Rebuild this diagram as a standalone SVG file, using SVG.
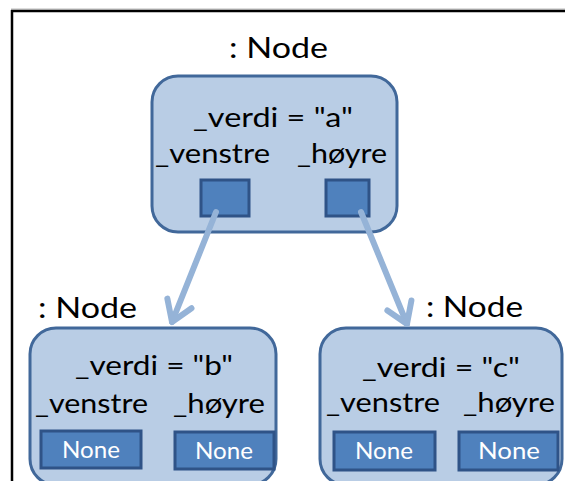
<svg xmlns="http://www.w3.org/2000/svg" width="565" height="481" viewBox="0 0 565 481">
<defs>
<style>
.node{fill:#B9CDE5;stroke:#41689A;stroke-width:3}
.slot{fill:#4F81BD;stroke:#2F5387;stroke-width:3}
.t{font-family:Lato,"Open Sans","Liberation Sans",sans-serif;font-size:27px;fill:#000}
.title{font-family:Lato,"Open Sans","Liberation Sans",sans-serif;font-size:28px;fill:#000}
.none{font-family:Lato,"Open Sans","Liberation Sans",sans-serif;font-size:23px;fill:#fff;text-anchor:middle}
.edge{fill:none;stroke:#95B3D7;stroke-width:6;stroke-linecap:round;stroke-linejoin:round}
</style>
<marker id="arr" markerUnits="userSpaceOnUse" viewBox="-26 -18 32 36" refX="0" refY="0" markerWidth="32" markerHeight="36" orient="auto" overflow="visible">
<path d="M-20,-13 L0,0 L-20,13" fill="none" stroke="#95B3D7" stroke-width="6" stroke-linecap="round" stroke-linejoin="round"/>
</marker>
</defs>
<rect width="565" height="481" fill="#fff"/>
<g id="frame">
<line x1="11" y1="9" x2="565" y2="9" stroke="#BBBBBB" stroke-width="1"/>
<line x1="11" y1="11" x2="565" y2="11" stroke="#000" stroke-width="2.5"/>
<line x1="12" y1="10" x2="12" y2="481" stroke="#000" stroke-width="2.5"/>
</g>
<g id="node-a">
<text class="title" x="229" y="58" textLength="99" lengthAdjust="spacingAndGlyphs">: Node</text>
<rect class="node" x="152" y="76" width="245" height="156" rx="26"/>
<text class="t" x="193" y="127" textLength="160" lengthAdjust="spacingAndGlyphs">_verdi = "a"</text>
<text class="t" x="155" y="163" textLength="115" lengthAdjust="spacingAndGlyphs">_venstre</text>
<text class="t" x="297" y="163" textLength="90" lengthAdjust="spacingAndGlyphs">_høyre</text>
<rect class="slot" x="201" y="180" width="48" height="36"/>
<rect class="slot" x="326" y="180" width="43" height="36"/>
</g>
<g id="node-b">
<text class="title" x="38" y="318" textLength="99" lengthAdjust="spacingAndGlyphs">: Node</text>
<rect class="node" x="30" y="328" width="246" height="157" rx="26"/>
<text class="t" x="75" y="375" textLength="158" lengthAdjust="spacingAndGlyphs">_verdi = "b"</text>
<text class="t" x="35" y="413" textLength="113" lengthAdjust="spacingAndGlyphs">_venstre</text>
<text class="t" x="173" y="413" textLength="92" lengthAdjust="spacingAndGlyphs">_høyre</text>
<rect class="slot" x="41" y="431" width="100" height="37"/>
<text class="none" x="91" y="458" textLength="58" lengthAdjust="spacingAndGlyphs">None</text>
<rect class="slot" x="175" y="432" width="99" height="37"/>
<text class="none" x="224" y="459" textLength="58" lengthAdjust="spacingAndGlyphs">None</text>
</g>
<g id="node-c">
<text class="title" x="426" y="317" textLength="97" lengthAdjust="spacingAndGlyphs">: Node</text>
<rect class="node" x="320" y="328" width="242" height="157" rx="26"/>
<text class="t" x="362" y="377" textLength="158" lengthAdjust="spacingAndGlyphs">_verdi = "c"</text>
<text class="t" x="326" y="412" textLength="114" lengthAdjust="spacingAndGlyphs">_venstre</text>
<text class="t" x="463" y="412" textLength="92" lengthAdjust="spacingAndGlyphs">_høyre</text>
<rect class="slot" x="334" y="432" width="101" height="38"/>
<text class="none" x="384" y="459" textLength="58" lengthAdjust="spacingAndGlyphs">None</text>
<rect class="slot" x="459" y="432" width="99" height="38"/>
<text class="none" x="509" y="459" textLength="62" lengthAdjust="spacingAndGlyphs">None</text>
</g>
<g id="connectors">
<line class="edge" x1="216" y1="212" x2="172" y2="322" marker-end="url(#arr)"/>
<line class="edge" x1="361" y1="212" x2="407" y2="324" marker-end="url(#arr)"/>
</g>
</svg>
